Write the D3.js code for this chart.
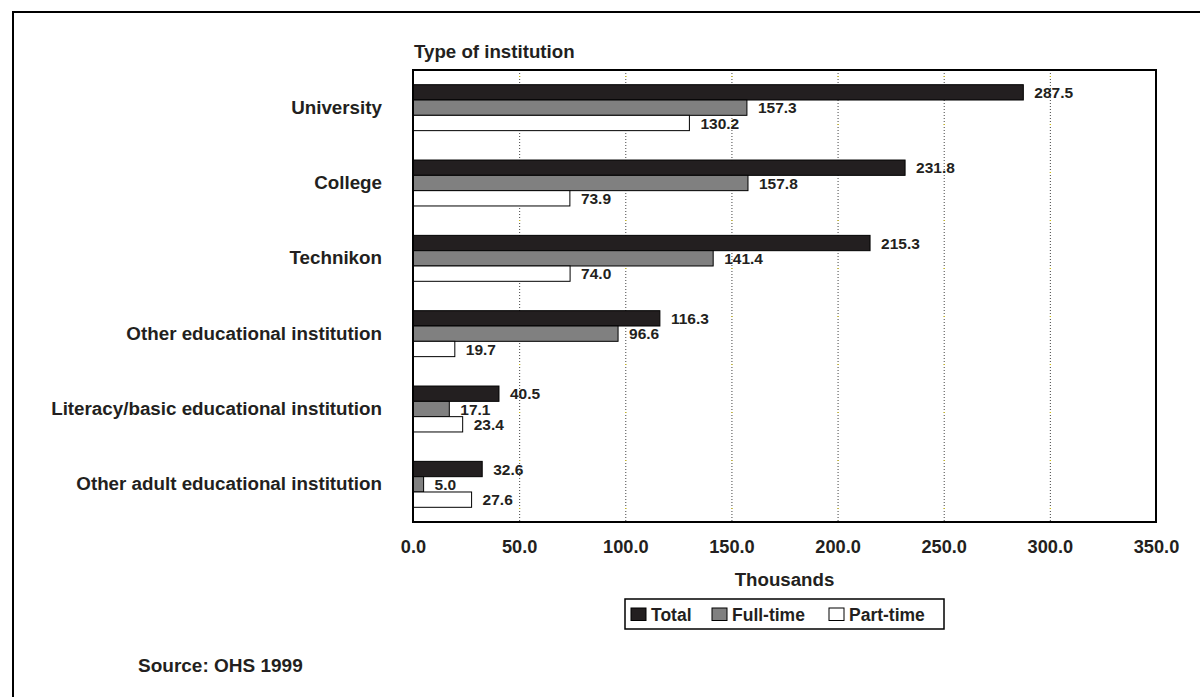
<!DOCTYPE html>
<html>
<head>
<meta charset="utf-8">
<script src="https://cdn.jsdelivr.net/npm/d3@7"></script>
<style>
  html, body { margin: 0; padding: 0; background: #fff; }
  svg { display: block; font-family: "Liberation Sans", Arial, sans-serif; font-weight: bold; }
</style>
</head>
<body>
<svg id="chart" width="1200" height="697"></svg>
<script>
// ---- Data ----
const categories = [
  "University",
  "College",
  "Technikon",
  "Other educational institution",
  "Literacy/basic educational institution",
  "Other adult educational institution"
];
const seriesNames = ["Total", "Full-time", "Part-time"];
const totalValues    = [287.5, 231.8, 215.3, 116.3, 40.5, 32.6];
const fullTimeValues = [157.3, 157.8, 141.4, 96.6, 17.1, 5.0];
const partTimeValues = [130.2, 73.9, 74.0, 19.7, 23.4, 27.6];
const xTicks = [0, 50, 100, 150, 200, 250, 300, 350];
const yAxisTitle = "Type of institution";
const xAxisTitle = "Thousands";
const sourceText = "Source: OHS 1999";

// ---- Layout ----
const svg = d3.select("#chart");
const ink = "#231f20";
const colors = { "Total": "#231f20", "Full-time": "#808080", "Part-time": "#ffffff" };
const plot = { left: 413, right: 1156, top: 70, bottom: 522 };

const seriesValues = { "Total": totalValues, "Full-time": fullTimeValues, "Part-time": partTimeValues };
const rows = categories.map((c, i) => ({
  category: c,
  values: seriesNames.map(s => ({ series: s, value: seriesValues[s][i] }))
}));

const x = d3.scaleLinear().domain([0, 350]).range([plot.left, plot.right]);
const y0 = d3.scaleBand().domain(categories).range([plot.top, plot.bottom]).padding(0);
const y1 = d3.scaleBand().domain(seriesNames).range([0, y0.bandwidth()]).paddingInner(0).paddingOuter(0.96);

// outer border (top & left visible)
svg.append("rect")
  .attr("x", 13).attr("y", 12).attr("width", 1300).attr("height", 800)
  .attr("fill", "none").attr("stroke", "#000").attr("stroke-width", 2);

// gridlines
const grid = svg.append("g");
xTicks.filter(t => t > 0 && t < 350).forEach(t => {
  grid.append("line")
    .attr("x1", x(t) + 0.5).attr("x2", x(t) + 0.5)
    .attr("y1", plot.top).attr("y2", plot.bottom)
    .attr("stroke", "#444").attr("stroke-width", 1)
    .attr("stroke-dasharray", "1,2");
  grid.append("line")
    .attr("x1", x(t) + 0.5).attr("x2", x(t) + 0.5)
    .attr("y1", plot.top + 6).attr("y2", plot.bottom)
    .attr("stroke", "#e8d000").attr("stroke-width", 1)
    .attr("stroke-dasharray", "1,47");
});

// bars
const groups = svg.append("g").selectAll("g")
  .data(rows).join("g")
  .attr("transform", d => `translate(0,${y0(d.category)})`);

groups.selectAll("rect")
  .data(d => d.values).join("rect")
  .attr("x", x(0))
  .attr("y", d => y1(d.series))
  .attr("width", d => x(d.value) - x(0))
  .attr("height", y1.bandwidth())
  .attr("fill", d => colors[d.series])
  .attr("stroke", "#000")
  .attr("stroke-width", 1);

groups.selectAll("text")
  .data(d => d.values).join("text")
  .attr("x", d => x(d.value) + 11)
  .attr("y", d => y1(d.series) + y1.bandwidth() / 2)
  .attr("dy", "0.36em")
  .attr("font-size", 15.5)
  .attr("fill", ink)
  .text(d => d3.format(".1f")(d.value));

// plot frame
svg.append("rect")
  .attr("x", plot.left).attr("y", plot.top)
  .attr("width", plot.right - plot.left).attr("height", plot.bottom - plot.top)
  .attr("fill", "none").attr("stroke", "#000").attr("stroke-width", 2);

// x axis
const xAxis = svg.append("g")
  .attr("transform", `translate(0,${plot.bottom})`)
  .call(d3.axisBottom(x).tickValues(xTicks).tickSize(0).tickPadding(18).tickFormat(d3.format(".1f")));
xAxis.select(".domain").remove();
xAxis.selectAll("text").attr("font-size", 18.2).attr("font-family", "Liberation Sans, Arial, sans-serif").attr("font-weight", "bold").attr("fill", ink);

// y axis
const yAxis = svg.append("g")
  .attr("transform", `translate(${plot.left},0)`)
  .call(d3.axisLeft(y0).tickSize(0).tickPadding(31));
yAxis.select(".domain").remove();
yAxis.selectAll("text").attr("font-size", 18.8).attr("font-family", "Liberation Sans, Arial, sans-serif").attr("font-weight", "bold").attr("fill", ink);

// titles
svg.append("text")
  .attr("x", 414).attr("y", 57.5)
  .attr("font-size", 18.7).attr("fill", ink)
  .text(yAxisTitle);

svg.append("text")
  .attr("x", (plot.left + plot.right) / 2).attr("y", 586)
  .attr("text-anchor", "middle")
  .attr("font-size", 18.7).attr("fill", ink)
  .text(xAxisTitle);

// legend
const legend = svg.append("g");
legend.append("rect")
  .attr("x", 625).attr("y", 599).attr("width", 319).attr("height", 30)
  .attr("fill", "#fff").attr("stroke", "#000").attr("stroke-width", 1.5);
const legendX = [631, 712, 829];
seriesNames.forEach((s, i) => {
  legend.append("rect")
    .attr("x", legendX[i]).attr("y", 608).attr("width", 15).attr("height", 12.5)
    .attr("fill", colors[s]).attr("stroke", "#000").attr("stroke-width", 1);
  legend.append("text")
    .attr("x", legendX[i] + 20).attr("y", 620.5)
    .attr("font-size", 17.5).attr("fill", ink)
    .text(s);
});

// source
svg.append("text")
  .attr("x", 138).attr("y", 671.5)
  .attr("font-size", 19).attr("fill", ink)
  .text(sourceText);
</script>
</body>
</html>
